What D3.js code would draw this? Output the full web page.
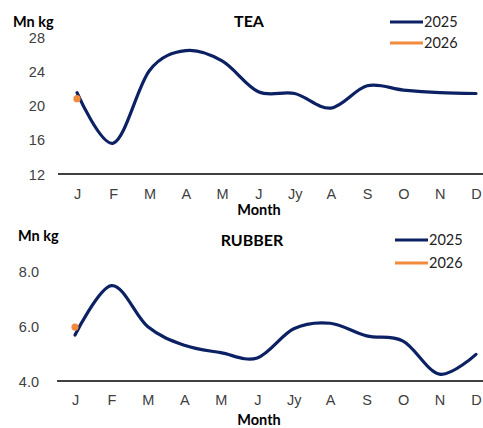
<!DOCTYPE html>
<html>
<head>
<meta charset="utf-8">
<script src="https://cdn.jsdelivr.net/npm/d3@7"></script>
<style>
  body { margin: 0; background: #fff; }
  svg { display: block; font-family: "Lato", "Open Sans", sans-serif; }
  .tick-label { font-size: 14.5px; fill: #404040; }
  .bold { font-size: 14.5px; font-weight: bold; fill: #000; }
  .title { font-size: 16px; font-weight: bold; fill: #000; }
  .legend-text { font-size: 14.5px; fill: #222; }
</style>
</head>
<body>
<script>
// month labels along the x axis
let months = ['J', 'F', 'M', 'A', 'M', 'J', 'Jy', 'A', 'S', 'O', 'N', 'D']

// tea production, Mn kg
let tea2025 = [21.5, 15.6, 24.1, 26.4, 25.2, 21.6, 21.4, 19.7, 22.3, 21.8, 21.5, 21.4]
let tea2026 = [20.8]
let teaTicks = [12, 16, 20, 24, 28]

// rubber production, Mn kg
let rubber2025 = [5.67, 7.47, 5.97, 5.3, 5.03, 4.84, 5.9, 6.1, 5.64, 5.45, 4.25, 4.97]
let rubber2026 = [5.96]
let rubberTicks = [4.0, 6.0, 8.0]

let navy = '#0c2163'
let orange = '#f28a3c'

let svg = d3.select('body').append('svg')
            .attr('width', 483)
            .attr('height', 428)

// draws one panel from a config of positions
const drawPanel = (cfg) => {
    let g = svg.append('g')

    let x = d3.scalePoint()
              .domain(d3.range(12))
              .range([cfg.xStart, 476])

    let y = d3.scaleLinear()
              .domain(cfg.domain)
              .range([cfg.bottom, cfg.topY])

    // baseline
    g.append('line')
        .attr('x1', cfg.axisLeft).attr('x2', 483)
        .attr('y1', cfg.bottom).attr('y2', cfg.bottom)
        .style('stroke', '#000').style('stroke-width', 1.3)

    // y tick labels
    let yAxis = d3.axisLeft(y).tickValues(cfg.ticks).tickSize(0).tickFormat(cfg.fmt)
    let ya = g.append('g')
              .attr('transform', 'translate(' + cfg.labelRight + ',0)')
              .call(yAxis)
    ya.select('.domain').remove()
    ya.selectAll('text').attr('class', 'tick-label').attr('x', 0).attr('dy', '0.35em')
        .attr('font-family', null).attr('font-size', null).attr('fill', null)

    // x tick labels
    let xAxis = d3.axisBottom(x).tickSize(0).tickFormat(i => months[i])
    let xa = g.append('g')
              .attr('transform', 'translate(0,' + cfg.bottom + ')')
              .call(xAxis)
    xa.select('.domain').remove()
    xa.selectAll('text').attr('class', 'tick-label').attr('y', cfg.xLabelOffset).attr('dy', '0.35em')
        .attr('font-family', null).attr('font-size', null).attr('fill', null)

    // series line
    let line = d3.line()
                 .x((d, i) => x(i))
                 .y(d => y(d))
                 .curve(d3.curveCardinal.tension(0))
    g.append('path')
        .datum(cfg.s2025)
        .attr('d', line)
        .style('fill', 'none')
        .style('stroke', navy)
        .style('stroke-width', 3.2)
        .style('stroke-linecap', 'round')

    g.selectAll('.dot')
        .data(cfg.s2026)
        .join('circle')
        .attr('cx', (d, i) => x(i))
        .attr('cy', d => y(d))
        .attr('r', 3.6)
        .style('fill', orange)

    // titles
    g.append('text').attr('class', 'bold')
        .attr('x', cfg.unitX).attr('y', cfg.unitY).text('Mn kg')
    g.append('text').attr('class', 'title')
        .attr('x', cfg.titleX).attr('y', cfg.titleY)
        .attr('text-anchor', 'middle').text(cfg.title)
    g.append('text').attr('class', 'bold')
        .attr('x', 259).attr('y', cfg.monthY)
        .attr('text-anchor', 'middle').text('Month')

    // legend
    let legend = [{name: '2025', color: navy}, {name: '2026', color: orange}]
    legend.forEach((d, i) => {
        let ly = cfg.legendY + i * cfg.legendGap
        g.append('line')
            .attr('x1', cfg.legendX).attr('x2', cfg.legendX + 33)
            .attr('y1', ly).attr('y2', ly)
            .style('stroke', d.color).style('stroke-width', 3.2)
        g.append('text').attr('class', 'legend-text')
            .attr('x', cfg.legendX + 34).attr('y', ly).attr('dy', '0.35em')
            .text(d.name)
    })
}

drawPanel({
    s2025: tea2025, s2026: tea2026, ticks: teaTicks, fmt: d3.format('d'),
    domain: [12, 28], topY: 37, bottom: 174, xStart: 77,
    axisLeft: 58, labelRight: 45, xLabelOffset: 20,
    unitX: 13, unitY: 27, title: 'TEA', titleX: 249, titleY: 27,
    monthY: 215, legendX: 390, legendY: 22, legendGap: 21
})

drawPanel({
    s2025: rubber2025, s2026: rubber2026, ticks: rubberTicks, fmt: d3.format('.1f'),
    domain: [4, 8], topY: 271, bottom: 381, xStart: 75,
    axisLeft: 57, labelRight: 39, xLabelOffset: 19,
    unitX: 18, unitY: 241, title: 'RUBBER', titleX: 252, titleY: 246,
    monthY: 425, legendX: 395, legendY: 240, legendGap: 23
})
</script>
</body>
</html>
